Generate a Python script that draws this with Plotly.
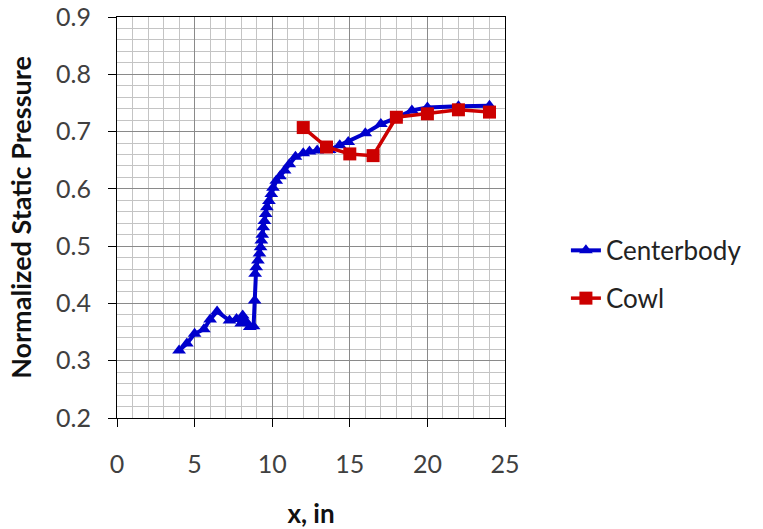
import plotly.graph_objects as go

# Centerbody data
cb_x = [4.0, 4.5, 5.0, 5.6, 6.0, 6.45, 7.25, 7.7, 8.0, 8.1, 8.35, 8.55, 8.8,
        8.87, 8.9, 8.97, 9.08, 9.18, 9.25, 9.3, 9.36, 9.42, 9.5, 9.58, 9.66,
        9.79, 9.94, 10.05, 10.26, 10.5, 10.8, 11.1, 11.5, 12.0, 12.4, 12.9,
        13.7, 14.35, 14.9, 16.0, 17.0, 18.0, 19.0, 20.0, 22.0, 24.0]
cb_y = [0.318, 0.33, 0.347, 0.355, 0.372, 0.386, 0.37, 0.373, 0.365, 0.379, 0.367, 0.359, 0.36,
        0.405, 0.452, 0.463, 0.475, 0.487, 0.498, 0.51, 0.52, 0.533, 0.544, 0.556, 0.568,
        0.579, 0.591, 0.602, 0.614, 0.622, 0.632, 0.643, 0.656, 0.662, 0.665, 0.667,
        0.668, 0.676, 0.682, 0.697, 0.713, 0.724, 0.737, 0.742, 0.744, 0.745]

# Cowl data
cowl_x = [12.0, 13.5, 15.0, 16.5, 18.0, 20.0, 22.0, 24.0]
cowl_y = [0.707, 0.673, 0.661, 0.658, 0.725, 0.731, 0.738, 0.734]

x_ticks = [0, 5, 10, 15, 20, 25]
y_ticks = [0.2, 0.3, 0.4, 0.5, 0.6, 0.7, 0.8, 0.9]

FONT = "Lato"
BLUE = "#0000CC"
RED = "#CC0000"

fig = go.Figure()
fig.add_trace(go.Scatter(
    x=cb_x, y=cb_y, name="Centerbody", mode="lines+markers", legendgroup="cb",
    line=dict(color=BLUE, width=4),
    marker=dict(symbol="triangle-up", size=12, color=BLUE),
))
fig.add_trace(go.Scatter(
    x=cowl_x, y=cowl_y, name="Cowl", mode="lines+markers", legendgroup="cowl",
    line=dict(color=RED, width=3.5),
    marker=dict(symbol="square", size=13, color=RED),
))

fig.update_layout(
    width=763, height=529,
    margin=dict(l=117, r=258, t=17, b=111, autoexpand=False),
    paper_bgcolor="white", plot_bgcolor="white",
    font=dict(family=FONT, size=25, color="#404040"),
    legend=dict(x=1.157, y=0.358, xanchor="left", yanchor="middle",
                font=dict(family=FONT, size=26, color="#222222"),
                traceorder="grouped", tracegroupgap=11, bgcolor="rgba(0,0,0,0)"),
    xaxis=dict(
        range=[0, 25], tickvals=x_ticks, ticktext=[str(v) for v in x_ticks],
        showgrid=True, gridcolor="#8a8a8a", gridwidth=1,
        minor=dict(dtick=1, showgrid=True, gridcolor="#c4c4c4", gridwidth=1),
        showline=True, linecolor="#000000", linewidth=1, mirror=True,
        ticks="outside", ticklen=8, tickcolor="#000000",
        ticklabelstandoff=16, zeroline=False, automargin=False,
        ticklabeloverflow="allow",
        title=dict(text="<b>x, in</b>", font=dict(family=FONT, size=26, color="#111111"),
                   standoff=30),
    ),
    yaxis=dict(
        range=[0.2, 0.9], tickvals=y_ticks, ticktext=[f"{v:.1f}" for v in y_ticks],
        showgrid=True, gridcolor="#8a8a8a", gridwidth=1,
        minor=dict(dtick=0.02, showgrid=True, gridcolor="#c4c4c4", gridwidth=1),
        showline=True, linecolor="#000000", linewidth=1, mirror=True,
        ticks="outside", ticklen=8, tickcolor="#000000",
        ticklabelstandoff=12, zeroline=False, automargin=False,
        ticklabeloverflow="allow",
        title=dict(text="<b>Normalized Static Pressure</b>",
                   font=dict(family=FONT, size=27, color="#111111"), standoff=16),
    ),
)

fig.write_html("out.html")
